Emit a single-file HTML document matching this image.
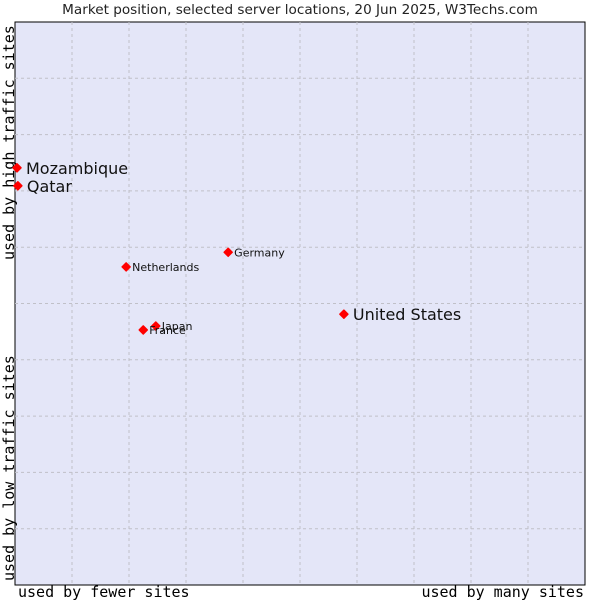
<!DOCTYPE html>
<html><head><meta charset="utf-8"><style>
body{margin:0;background:#fff;font-family:"DejaVu Sans","Liberation Sans",sans-serif}
</style></head><body>
<svg width="600" height="600">
<text x="300" y="14" text-anchor="middle" font-size="13.6" fill="#222">Market position, selected server locations, 20 Jun 2025, W3Techs.com</text>
<rect x="15" y="22" width="570" height="563" fill="#e4e6f8" stroke="#000" stroke-width="1"/>
<g id="grid"></g>
<text transform="translate(14,581) rotate(-90)" font-family="DejaVu Sans Mono,Liberation Mono,monospace" font-size="15" fill="#000">used by low traffic sites</text>
<text transform="translate(14,260) rotate(-90)" font-family="DejaVu Sans Mono,Liberation Mono,monospace" font-size="15" fill="#000">used by high traffic sites</text>
<text x="18" y="597" font-family="DejaVu Sans Mono,Liberation Mono,monospace" font-size="15" fill="#000">used by fewer sites</text>
<text x="584" y="597" text-anchor="end" font-family="DejaVu Sans Mono,Liberation Mono,monospace" font-size="15" fill="#000">used by many sites</text>
<g id="pts"></g>
</svg>
<script>
const names=["Mozambique","Qatar","Netherlands","Germany","United States","Japan","France"];
const xs=[0.35,0.5,19.5,37.4,57.7,24.7,22.5];
const ys=[74.1,70.9,56.5,59.1,48.1,46.0,45.3];
const big=[true,true,false,false,true,false,false];
const NS="http://www.w3.org/2000/svg";
const X=v=>15+v*5.7, Y=v=>585-v*5.63;
const g=document.getElementById('grid');
for(let i=1;i<10;i++){
  const v=document.createElementNS(NS,'line');
  v.setAttribute('x1',X(i*10));v.setAttribute('x2',X(i*10));v.setAttribute('y1',22);v.setAttribute('y2',585);
  v.setAttribute('stroke','#c0c0c8');v.setAttribute('stroke-dasharray','3,3');
  
  
  g.appendChild(v);
  const h=document.createElementNS(NS,'line');
  h.setAttribute('y1',Y(i*10));h.setAttribute('y2',Y(i*10));h.setAttribute('x1',15);h.setAttribute('x2',585);
  h.setAttribute('stroke','#c0c0c8');h.setAttribute('stroke-dasharray','3,3');
  
  
  g.appendChild(h);
}
const p=document.getElementById('pts');
names.forEach((n,i)=>{
  const cx=X(xs[i]),cy=Y(ys[i]);
  const d=document.createElementNS(NS,'polygon');
  d.setAttribute('points',`${cx-4},${cy} ${cx},${cy-4} ${cx+4},${cy} ${cx},${cy+4}`);
  d.setAttribute('fill','#f00');d.setAttribute('stroke','#f00');d.setAttribute('stroke-width','1.5');d.setAttribute('stroke-linejoin','round');
  
  
  p.appendChild(d);
  const t=document.createElementNS(NS,'text');
  t.setAttribute('x',cx+(big[i]?9:6));t.setAttribute('y',cy+(big[i]?6:4));
  t.setAttribute('font-size',big[i]?16:11);t.setAttribute('fill','#111');
  t.textContent=n;
  
  
  p.appendChild(t);
});
</script>
</body></html>
